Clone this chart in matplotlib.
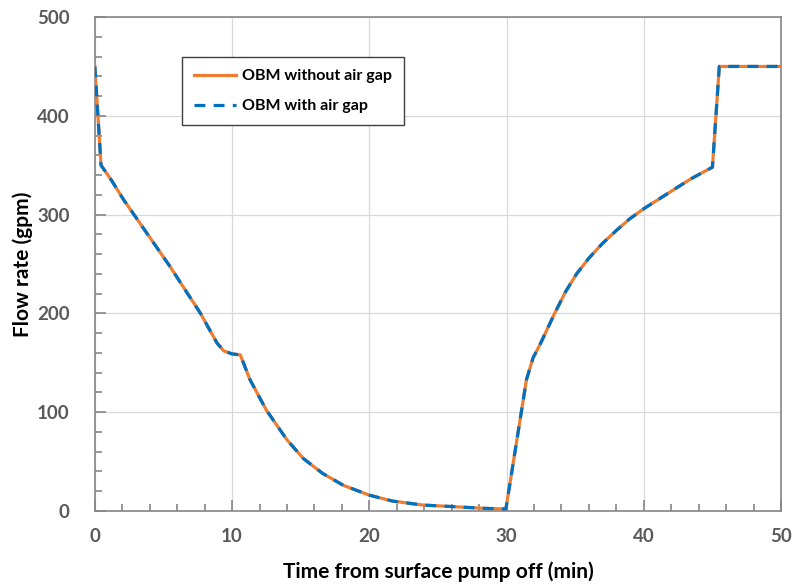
import matplotlib.pyplot as plt
from matplotlib.ticker import MultipleLocator

plt.rcParams['font.family'] = ['Lato', 'DejaVu Sans']

# time (min) and flow rate (gpm)
time_min = [0, 0.45, 1.2, 2.1, 2.8, 4.0, 5.5, 6.9, 7.7, 8.9, 9.4, 10.0, 10.6,
            11.3, 12.5, 14.0, 15.2, 16.6, 18.1, 20.0, 21.7, 23.9, 26.1, 28.3,
            29.95, 31.45, 31.93, 32.42, 33.5, 34.3, 35.1, 36.0, 37.0, 38.0,
            39.0, 40.0, 41.7, 43.4, 45.0, 45.5, 50.0]
flow_no_gap = [450, 350, 335, 315, 301, 277, 247, 217, 200, 170, 162, 159, 158,
               133, 102, 72, 53, 38, 26, 16, 10, 6, 4.4, 2.7,
               2, 133, 155, 168, 200, 222, 240, 256, 271, 284,
               296, 306, 321, 336, 348, 450, 450]
flow_air_gap = list(flow_no_gap)

orange = '#ED7D31'
blue = '#0070C0'
grey = '#595959'

fig = plt.figure(figsize=(7.97, 5.88), dpi=100)
ax = fig.add_axes([0.119, 0.131, 0.861, 0.840])

ax.plot(time_min, flow_no_gap, color=orange, lw=2.3, label='OBM without air gap', zorder=3)
ax.plot(time_min, flow_air_gap, color=blue, lw=2.3, ls=(0, (3.4, 2.6)),
        label='OBM with air gap', zorder=4)

ax.set_xlim(0, 50)
ax.set_ylim(0, 500)
ax.xaxis.set_major_locator(MultipleLocator(10))
ax.xaxis.set_minor_locator(MultipleLocator(2))
ax.yaxis.set_major_locator(MultipleLocator(100))
ax.yaxis.set_minor_locator(MultipleLocator(20))
ax.grid(True, which='major', color='#d9d9d9', lw=0.9)
ax.set_axisbelow(True)

for s in ax.spines.values():
    s.set_color('#868686')
    s.set_linewidth(1.2)

ax.tick_params(which='both', direction='in', colors='#868686', width=1.2,
               labelcolor=grey, labelsize=13.5)
ax.tick_params(axis='x', which='both', pad=12)
ax.tick_params(axis='y', which='both', pad=18)
ax.tick_params(which='major', length=8)
ax.tick_params(which='minor', length=5)
for lab in ax.get_xticklabels() + ax.get_yticklabels():
    lab.set_fontweight('bold')

ax.set_xlabel('Time from surface pump off (min)', fontsize=15, fontweight='bold', labelpad=12)
ax.set_ylabel('Flow rate (gpm)', fontsize=15, fontweight='bold', labelpad=3)

leg = ax.legend(loc='upper left', bbox_to_anchor=(0.116, 0.935), fancybox=False,
                framealpha=1, edgecolor='#404040', handlelength=2.6,
                prop={'weight': 'bold', 'size': 11.5}, labelspacing=1.0,
                borderpad=0.75, handletextpad=0.4)
leg.get_frame().set_linewidth(1.0)

plt.savefig('out.png', dpi=100)
